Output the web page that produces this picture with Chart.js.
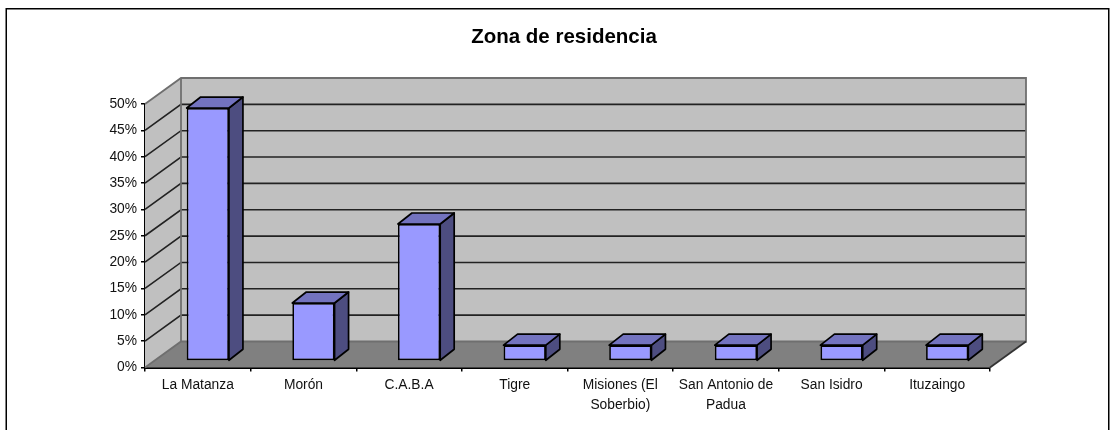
<!DOCTYPE html>
<html><head><meta charset="utf-8">
<style>html,body{margin:0;padding:0;background:#fff}canvas{display:block}#w{position:relative;width:1115px;height:430px}</style>
<script src="https://cdn.jsdelivr.net/npm/chart.js@4"></script></head>
<body><div id="w"><canvas id="c" width="1115" height="430"></canvas></div>
<script>
const categories = [['La Matanza'],['Morón'],['C.A.B.A'],['Tigre'],['Misiones (El','Soberbio)'],['San Antonio de','Padua'],['San Isidro'],['Ituzaingo']];
const values = [48,11,26,3,3,3,3,3];
const titleText = 'Zona de residencia';
const FONT = '"Liberation Sans", Arial, sans-serif';
// 3D projection offsets, in px
const WALL = {dx:36, dy:-26};
const BAR_OFF = {dx:10, dy:-6.5};
const BAR_D = {dx:14, dy:-11};

const box3d = {
  id:'box3d',
  afterLayout(chart){
    chart.titleBlock.left=13; chart.titleBlock.right=1115;
  },
  beforeDatasetsDraw(chart){
    const {ctx,scales:{x,y}} = chart;
    const l=x.left,r=x.right,t=y.getPixelForValue(50),b=y.getPixelForValue(0);
    ctx.save();
    ctx.fillStyle='#c0c0c0';
    ctx.fillRect(l+WALL.dx,t+WALL.dy,r-l,b-t);
    ctx.beginPath();ctx.moveTo(l,t);ctx.lineTo(l+WALL.dx,t+WALL.dy);ctx.lineTo(l+WALL.dx,b+WALL.dy);ctx.lineTo(l,b);ctx.closePath();ctx.fill();
    ctx.fillStyle='#808080';
    ctx.beginPath();ctx.moveTo(l,b);ctx.lineTo(l+WALL.dx,b+WALL.dy);ctx.lineTo(r+WALL.dx,b+WALL.dy);ctx.lineTo(r,b);ctx.closePath();ctx.fill();
    y.ticks.forEach(tk=>{
      const p=y.getPixelForValue(tk.value);
      if(tk.value===0||tk.value===50) return;
      ctx.strokeStyle='#222';ctx.lineWidth=1.6;
      ctx.beginPath();ctx.moveTo(l,p);ctx.lineTo(l+WALL.dx,p+WALL.dy);ctx.lineTo(r+WALL.dx,p+WALL.dy);ctx.stroke();
    });
    ctx.strokeStyle='#6f6f6f';ctx.lineWidth=1.8;
    ctx.beginPath();ctx.moveTo(l,t);ctx.lineTo(l+WALL.dx,t+WALL.dy);ctx.lineTo(r+WALL.dx,t+WALL.dy);ctx.lineTo(r+WALL.dx,b+WALL.dy);ctx.lineTo(l+WALL.dx,b+WALL.dy);ctx.lineTo(l,b);ctx.stroke();
    ctx.beginPath();ctx.moveTo(l+WALL.dx,t+WALL.dy);ctx.lineTo(l+WALL.dx,b+WALL.dy);ctx.stroke();
    ctx.strokeStyle='#333';
    ctx.beginPath();ctx.moveTo(r,b);ctx.lineTo(r+WALL.dx,b+WALL.dy);ctx.stroke();
    chart.getDatasetMeta(0).data.forEach(el=>{
      const L=el.x-el.width/2+BAR_OFF.dx,R=el.x+el.width/2+BAR_OFF.dx,T=el.y+BAR_OFF.dy,B=el.base+BAR_OFF.dy;
      ctx.strokeStyle='#000';ctx.lineWidth=1.7;ctx.lineJoin='round';
      ctx.fillStyle='#4d4d80';
      ctx.beginPath();ctx.moveTo(R,T);ctx.lineTo(R+BAR_D.dx,T+BAR_D.dy);ctx.lineTo(R+BAR_D.dx,B+BAR_D.dy);ctx.lineTo(R,B);ctx.closePath();ctx.fill();ctx.stroke();
      ctx.fillStyle='#7373bf';
      ctx.beginPath();ctx.moveTo(L,T);ctx.lineTo(L+BAR_D.dx,T+BAR_D.dy);ctx.lineTo(R+BAR_D.dx,T+BAR_D.dy);ctx.lineTo(R,T);ctx.closePath();ctx.fill();ctx.stroke();
    });
    ctx.restore();
    ctx.save();
    ctx.translate(BAR_OFF.dx,BAR_OFF.dy);
  },
  afterDatasetsDraw(chart){ chart.ctx.restore(); },
  afterDraw(chart){
    const {ctx}=chart;
    ctx.save();ctx.strokeStyle='#000';ctx.lineWidth=1.5;
    ctx.strokeRect(6.25,8.75,1102.5,440);
    ctx.restore();
  }
};

new Chart(document.getElementById('c'),{
  type:'bar',
  data:{labels:categories,datasets:[{data:values,backgroundColor:'#9999ff',borderColor:'#000',borderWidth:1.7,borderSkipped:false,barPercentage:0.4,categoryPercentage:1,clip:false}]},
  options:{
    responsive:false,animation:false,
    layout:{autoPadding:false,padding:{left:0,right:125,top:0,bottom:0}},
    plugins:{legend:{display:false},tooltip:{enabled:false},
      title:{display:true,text:titleText,color:'#000',font:{family:FONT,size:20.5,weight:'bold',lineHeight:1.2},padding:{top:25,bottom:54.4}}},
    scales:{
      x:{afterFit(s){s.height=62.5;},
        grid:{drawOnChartArea:false,drawTicks:true,tickLength:4,color:'#000',lineWidth:1.5},
        border:{display:true,color:'#000',width:2},
        ticks:{color:'#111',font:{family:FONT,size:13.8,lineHeight:1.45},padding:4,maxRotation:0,autoSkip:false}},
      y:{min:0,max:50,afterFit(s){s.width=145;},
        grid:{drawOnChartArea:false,drawTicks:true,tickLength:4,color:'#000',lineWidth:1.5},
        border:{display:true,color:'#000',width:2},
        ticks:{stepSize:5,color:'#111',font:{family:FONT,size:13.8},padding:4,callback:v=>v+'%'}}
    }
  },
  plugins:[box3d]
});
</script></body></html>
